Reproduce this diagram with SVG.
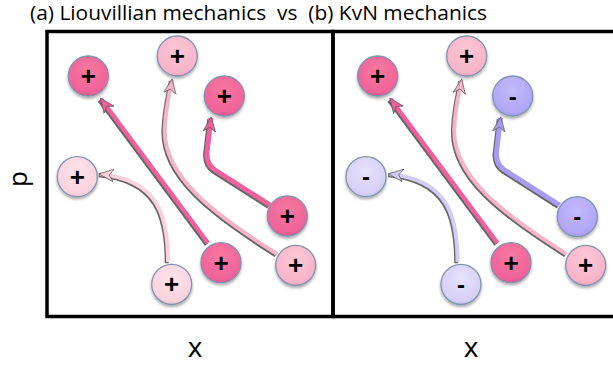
<svg xmlns="http://www.w3.org/2000/svg" width="613" height="368" viewBox="0 0 613 368">
<style>
.frame{fill:none;stroke:#000;stroke-width:3.5}
.node{stroke:#7f93ad;stroke-width:1.3}
.sign{font-family:"Liberation Sans",Arial,sans-serif;font-weight:bold;font-size:26px;fill:#000;text-anchor:middle}
.minus{font-family:"Liberation Sans",Arial,sans-serif;font-weight:bold;font-size:24px;fill:#000;text-anchor:middle}
.lbl{font-family:"Open Sans","Liberation Sans",sans-serif;fill:#000}
.arr{fill:none;stroke-linecap:butt;stroke-linejoin:round}
.sh{fill:none;stroke:#333;stroke-opacity:0.75}
</style>
<defs>
<filter id="ds" x="-30%" y="-30%" width="160%" height="160%">
<feDropShadow dx="0" dy="2" stdDeviation="1.5" flood-color="#000" flood-opacity="0.35"/>
</filter>
<radialGradient id="gDark" cx="0.5" cy="0.35" r="0.7">
<stop offset="0" stop-color="#f7799f"/><stop offset="0.8" stop-color="#f0629a"/><stop offset="1" stop-color="#e0508a"/>
</radialGradient>
<radialGradient id="gLight" cx="0.5" cy="0.35" r="0.7">
<stop offset="0" stop-color="#fbc8d6"/><stop offset="0.8" stop-color="#f8b3c8"/><stop offset="1" stop-color="#ee9fb8"/>
</radialGradient>
<radialGradient id="gPale" cx="0.5" cy="0.35" r="0.7">
<stop offset="0" stop-color="#fde3ea"/><stop offset="0.8" stop-color="#fbd2de"/><stop offset="1" stop-color="#f1bfce"/>
</radialGradient>
<radialGradient id="gPurp" cx="0.5" cy="0.35" r="0.7">
<stop offset="0" stop-color="#c4bafb"/><stop offset="0.8" stop-color="#b1a6f6"/><stop offset="1" stop-color="#9d90ea"/>
</radialGradient>
<radialGradient id="gLav" cx="0.5" cy="0.35" r="0.7">
<stop offset="0" stop-color="#e6e2fb"/><stop offset="0.8" stop-color="#d6d0f6"/><stop offset="1" stop-color="#c4bdee"/>
</radialGradient>
<marker id="mDark" markerUnits="userSpaceOnUse" markerWidth="16" markerHeight="16" refX="12" refY="6" orient="auto" viewBox="0 0 14 12">
<path d="M0,0.5 L13,6 L0,11.5 L4,6 z" fill="#f0609a" stroke="#555" stroke-width="0.6"/>
</marker>
<marker id="mLight" markerUnits="userSpaceOnUse" markerWidth="16" markerHeight="16" refX="12" refY="6" orient="auto" viewBox="0 0 14 12">
<path d="M0,0.5 L13,6 L0,11.5 L4,6 z" fill="#f6b2c7" stroke="#555" stroke-width="0.6"/>
</marker>
<marker id="mPale" markerUnits="userSpaceOnUse" markerWidth="16" markerHeight="16" refX="12" refY="6" orient="auto" viewBox="0 0 14 12">
<path d="M0,0.5 L13,6 L0,11.5 L4,6 z" fill="#fad0dc" stroke="#555" stroke-width="0.6"/>
</marker>
<marker id="mPurp" markerUnits="userSpaceOnUse" markerWidth="16" markerHeight="16" refX="12" refY="6" orient="auto" viewBox="0 0 14 12">
<path d="M0,0.5 L13,6 L0,11.5 L4,6 z" fill="#a99bf2" stroke="#555" stroke-width="0.6"/>
</marker>
<marker id="mLav" markerUnits="userSpaceOnUse" markerWidth="16" markerHeight="16" refX="12" refY="6" orient="auto" viewBox="0 0 14 12">
<path d="M0,0.5 L13,6 L0,11.5 L4,6 z" fill="#d3cbf5" stroke="#555" stroke-width="0.6"/>
</marker>
<path id="pA" d="M208,243 L101,99"/>
<path id="pB" d="M277,254 C215,215 160,175 165,125 C166,105 170,92 172,80"/>
<path id="pC" d="M270,205 L215,170 Q206,164 207,152 L211,118"/>
<path id="pD" d="M168,262 C168,215 158,180 100,174"/>
</defs>

<text class="lbl" x="30" y="19.5" font-size="19.5" textLength="457" lengthAdjust="spacingAndGlyphs" xml:space="preserve">(a) Liouvillian mechanics  vs  (b) KvN mechanics</text>
<text class="lbl" x="0" y="0" font-size="26" text-anchor="middle" transform="translate(27,179) rotate(-90)">p</text>
<text class="lbl" x="195" y="357" font-size="28" text-anchor="middle">x</text>
<text class="lbl" x="471" y="357" font-size="28" text-anchor="middle">x</text>

<g id="frames">
<rect class="frame" x="47" y="31.5" width="286" height="285"/>
<rect class="frame" x="333" y="31.5" width="285" height="285"/>
</g>

<g id="connectors">
<g id="left-arrows">
<use href="#pA" class="sh" stroke-width="4.5" transform="translate(-1.3,1.3)"/>
<use href="#pA" class="arr" stroke="#f0609a" stroke-width="4.5" marker-end="url(#mDark)"/>
<use href="#pB" class="sh" stroke-width="4" transform="translate(-1.3,1.3)"/>
<use href="#pB" class="arr" stroke="#f6b2c7" stroke-width="4" marker-end="url(#mLight)"/>
<use href="#pC" class="sh" stroke-width="5" transform="translate(-1.3,1.3)"/>
<use href="#pC" class="arr" stroke="#f0609a" stroke-width="5" marker-end="url(#mDark)"/>
<use href="#pD" class="sh" stroke-width="4" transform="translate(-1.3,1.3)"/>
<use href="#pD" class="arr" stroke="#fad0dc" stroke-width="4" marker-end="url(#mPale)"/>
</g>
<g id="right-arrows" transform="translate(289.5,0)">
<use href="#pA" class="sh" stroke-width="4.5" transform="translate(-1.3,1.3)"/>
<use href="#pA" class="arr" stroke="#f0609a" stroke-width="4.5" marker-end="url(#mDark)"/>
<use href="#pB" class="sh" stroke-width="4" transform="translate(-1.3,1.3)"/>
<use href="#pB" class="arr" stroke="#f6b2c7" stroke-width="4" marker-end="url(#mLight)"/>
<use href="#pC" class="sh" stroke-width="5" transform="translate(-1.3,1.3)"/>
<use href="#pC" class="arr" stroke="#a99bf2" stroke-width="5" marker-end="url(#mPurp)"/>
<use href="#pD" class="sh" stroke-width="4" transform="translate(-1.3,1.3)"/>
<use href="#pD" class="arr" stroke="#d3cbf5" stroke-width="4" marker-end="url(#mLav)"/>
</g>
</g>

<g id="a1"><circle class="node" cx="88.3" cy="76" r="20" fill="url(#gDark)" filter="url(#ds)"/><text class="sign" x="88.3" y="85">+</text></g>
<g id="a2"><circle class="node" cx="177.3" cy="56" r="20" fill="url(#gLight)" filter="url(#ds)"/><text class="sign" x="177.3" y="65">+</text></g>
<g id="a3"><circle class="node" cx="224.3" cy="96" r="20" fill="url(#gDark)" filter="url(#ds)"/><text class="sign" x="224.3" y="105">+</text></g>
<g id="a4"><circle class="node" cx="77.3" cy="176.7" r="20" fill="url(#gPale)" filter="url(#ds)"/><text class="sign" x="77.3" y="185.7">+</text></g>
<g id="a5"><circle class="node" cx="287.3" cy="216" r="20" fill="url(#gDark)" filter="url(#ds)"/><text class="sign" x="287.3" y="225">+</text></g>
<g id="a6"><circle class="node" cx="221" cy="262.7" r="20" fill="url(#gDark)" filter="url(#ds)"/><text class="sign" x="221" y="271.7">+</text></g>
<g id="a7"><circle class="node" cx="295.7" cy="265.3" r="20" fill="url(#gLight)" filter="url(#ds)"/><text class="sign" x="295.7" y="274.3">+</text></g>
<g id="a8"><circle class="node" cx="171.7" cy="284.3" r="20" fill="url(#gPale)" filter="url(#ds)"/><text class="sign" x="171.7" y="293.3">+</text></g>

<g id="b1"><circle class="node" cx="377.7" cy="76" r="20" fill="url(#gDark)" filter="url(#ds)"/><text class="sign" x="377.7" y="85">+</text></g>
<g id="b2"><circle class="node" cx="466.7" cy="56" r="20" fill="url(#gLight)" filter="url(#ds)"/><text class="sign" x="466.7" y="65">+</text></g>
<g id="b3"><circle class="node" cx="512.7" cy="96" r="20" fill="url(#gPurp)" filter="url(#ds)"/><text class="minus" x="512.7" y="104.5">-</text></g>
<g id="b4"><circle class="node" cx="366" cy="176.7" r="20" fill="url(#gLav)" filter="url(#ds)"/><text class="minus" x="366" y="185.2">-</text></g>
<g id="b5"><circle class="node" cx="577.3" cy="216.7" r="20" fill="url(#gPurp)" filter="url(#ds)"/><text class="minus" x="577.3" y="225.2">-</text></g>
<g id="b6"><circle class="node" cx="511" cy="262.7" r="20" fill="url(#gDark)" filter="url(#ds)"/><text class="sign" x="511" y="271.7">+</text></g>
<g id="b7"><circle class="node" cx="585.7" cy="265.3" r="20" fill="url(#gLight)" filter="url(#ds)"/><text class="sign" x="585.7" y="274.3">+</text></g>
<g id="b8"><circle class="node" cx="461" cy="284.3" r="20" fill="url(#gLav)" filter="url(#ds)"/><text class="minus" x="461" y="292.8">-</text></g>
</svg>
